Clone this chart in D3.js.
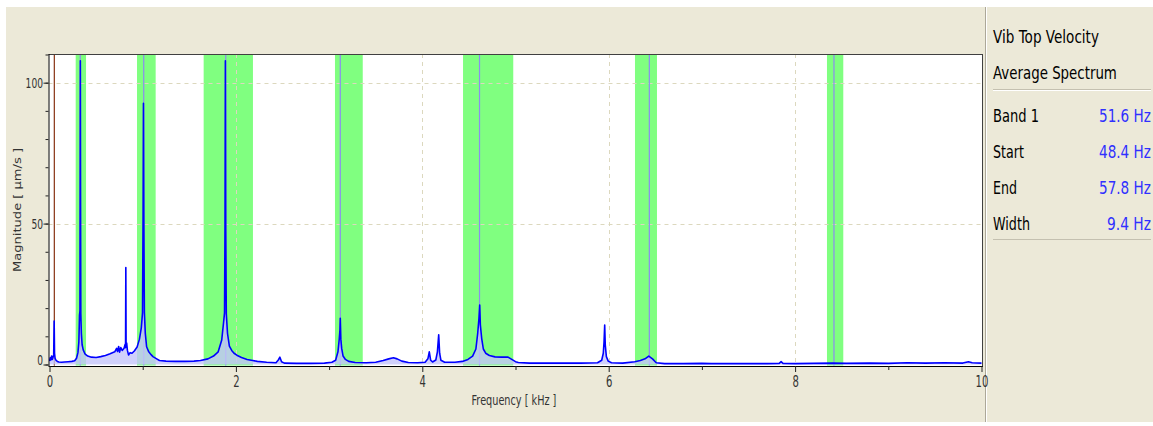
<!DOCTYPE html>
<html><head><meta charset="utf-8">
<script src="https://cdn.jsdelivr.net/npm/d3@7"></script>
<style>
html,body{margin:0;padding:0;background:#fff;}
svg{display:block;}
text{font-family:"DejaVu Sans","Liberation Sans",Arial,sans-serif;}
</style></head>
<body>
<svg id="chart" width="1153" height="426"></svg>
<script>
// ---------- DATA ----------
const freqKHz = [0.000,0.008,0.015,0.022,0.030,0.038,0.045,0.050,0.054,0.060,0.070,0.085,0.100,0.130,0.160,0.200,0.240,0.270,0.290,0.305,0.315,0.322,0.327,0.329,0.331,0.333,0.336,0.342,0.350,0.362,0.380,0.410,0.450,0.500,0.550,0.600,0.650,0.700,0.720,0.730,0.742,0.752,0.765,0.780,0.800,0.812,0.816,0.819,0.822,0.828,0.836,0.848,0.865,0.885,0.910,0.940,0.965,0.985,0.998,1.004,1.008,1.012,1.018,1.028,1.042,1.065,1.090,1.110,1.150,1.180,1.250,1.350,1.450,1.550,1.620,1.700,1.760,1.810,1.848,1.868,1.878,1.883,1.887,1.891,1.897,1.910,1.930,1.955,1.980,2.010,2.060,2.120,2.180,2.230,2.330,2.430,2.455,2.472,2.490,2.520,2.650,2.800,2.950,3.030,3.070,3.095,3.108,3.116,3.120,3.126,3.135,3.150,3.175,3.210,3.280,3.400,3.500,3.580,3.640,3.690,3.730,3.780,3.850,3.950,4.030,4.060,4.075,4.090,4.110,4.145,4.162,4.176,4.186,4.200,4.240,4.350,4.430,4.490,4.540,4.575,4.594,4.608,4.616,4.623,4.637,4.655,4.680,4.720,4.780,4.850,4.920,4.960,5.000,5.030,5.150,5.350,5.500,5.700,5.880,5.925,5.942,5.950,5.957,5.963,5.975,5.995,6.030,6.150,6.280,6.340,6.390,6.430,6.470,6.510,6.600,6.800,7.000,7.100,7.400,7.700,7.830,7.850,7.870,8.000,8.200,8.400,8.550,8.800,9.000,9.200,9.400,9.600,9.800,9.860,9.900,10.000];
const magnitude = [1.2,2.4,1.6,3.0,1.8,2.6,3.5,15.4,4.0,2.2,1.5,1.1,0.9,0.8,0.9,1.0,1.1,1.3,2.2,4.2,8.0,17.5,19.0,62.0,107.8,61.0,18.0,11.0,7.0,5.2,3.8,3.0,2.6,2.5,2.8,3.2,3.8,4.5,5.7,4.6,6.4,4.4,6.0,5.0,5.8,7.2,6.0,34.4,6.5,7.6,5.0,3.4,4.2,4.0,4.8,6.2,9.0,13.0,18.3,52.4,92.7,52.0,18.5,11.0,6.3,4.5,3.5,2.8,2.0,1.4,1.2,1.1,1.1,1.2,1.4,2.0,3.0,4.5,8.7,15.0,18.3,48.4,107.8,47.0,18.0,11.0,6.5,5.0,4.0,3.3,2.5,1.8,1.4,1.1,0.8,0.6,1.6,2.6,1.0,0.5,0.4,0.4,0.5,0.8,1.5,4.5,8.7,12.0,16.4,9.0,5.7,3.0,1.8,1.1,0.7,0.6,0.8,1.4,2.0,2.4,2.0,1.2,0.7,0.6,0.8,2.0,4.5,1.5,0.9,1.6,4.5,10.5,4.0,1.5,0.8,0.8,1.1,1.8,3.0,5.5,10.9,16.4,21.1,14.0,9.3,5.5,4.0,3.2,2.7,2.6,2.6,1.8,1.0,0.7,0.5,0.5,0.5,0.5,0.6,1.5,4.0,8.0,14.0,7.0,2.8,1.2,0.6,0.5,1.0,1.4,2.0,3.0,2.0,0.6,0.3,0.3,0.4,0.3,0.3,0.3,0.4,1.0,0.4,0.3,0.4,0.5,0.4,0.5,0.4,0.6,0.5,0.6,0.5,1.0,0.6,0.5];

const bandStart  = [0.281, 0.939, 1.654, 3.063, 4.437, 6.282, 8.342];
const bandEnd    = [0.392, 1.139, 2.183, 3.361, 4.976, 6.518, 8.517];
const bandCenter = [0.330, 1.011, 1.891, 3.120, 4.614, 6.436, 8.417];

const cursorHz = 51.6, cursorStartHz = 48.4, cursorEndHz = 57.8;

const xTicks = [0, 2, 4, 6, 8, 10];
const xMinorTicks = [1, 3, 5, 7, 9];
const yTicks = [0, 50, 100];
const yMinorTicks = [0,10,20,30,40,50,60,70,80,90,100,110];

const panelTitle1 = "Vib Top Velocity";
const panelTitle2 = "Average Spectrum";
const panelLabels = ["Band 1", "Start", "End", "Width"];
const panelValues = ["51.6 Hz", "48.4 Hz", "57.8 Hz", "9.4 Hz"];

const xTitle = "Frequency [ kHz ]";
const yTitle = "Magnitude [ µm/s ]";

// ---------- LAYOUT ----------
const svg = d3.select("#chart");
const L = 48.5, R = 982.5, T = 54, B = 366;
const x = d3.scaleLinear().domain([0, 10]).range([49.5, 981.5]);
const y = d3.scaleLinear().domain([0, 110]).range([364.5, 54.5]);

// place a text with horizontal squeeze so it spans width w
function squeezeText(sel, t, xx, yy, w, anchor, size, color){
  const el = sel.append("text").attr("x",0).attr("y",0).attr("font-size",size)
    .attr("text-anchor","start").attr("fill",color).text(t);
  const nat = el.node().getComputedTextLength();
  const s = w / nat;
  let x0 = xx;
  if (anchor === "end") x0 = xx - w;
  else if (anchor === "middle") x0 = xx - w/2;
  el.attr("transform",`translate(${x0},${yy}) scale(${s},1)`);
  return el;
}

const beige = "#ECE9D8";
svg.append("rect").attr("x",0).attr("y",0).attr("width",1153).attr("height",426).attr("fill","#fff");
svg.append("rect").attr("x",6).attr("y",7).attr("width",1147).attr("height",415).attr("fill",beige);

// right panel separator
svg.append("line").attr("x1",985.5).attr("x2",985.5).attr("y1",7).attr("y2",422).attr("stroke","#ACA899");
svg.append("line").attr("x1",986.5).attr("x2",986.5).attr("y1",7).attr("y2",422).attr("stroke","#fff");

// plot background
svg.append("rect").attr("x",L).attr("y",T).attr("width",R-L).attr("height",B-T).attr("fill","#fff");

svg.append("defs").append("clipPath").attr("id","clip")
  .append("rect").attr("x",L+0.5).attr("y",T+0.5).attr("width",R-L-1).attr("height",B-T-1);
const plot = svg.append("g").attr("clip-path","url(#clip)");

// green bands
plot.selectAll("rect.band").data(bandStart.map((s,i)=>({s, e: bandEnd[i]})))
  .enter().append("rect").attr("class","band")
  .attr("x", d=>x(d.s)).attr("width", d=>x(d.e)-x(d.s))
  .attr("y", T).attr("height", B-T).attr("fill","#80FF80");

// gridlines
const grid = "#DCD8BE";
plot.selectAll("line.hg").data([50,100]).enter().append("line")
  .attr("x1",L).attr("x2",R).attr("y1",d=>Math.round(y(d))+0.5).attr("y2",d=>Math.round(y(d))+0.5)
  .attr("stroke",grid).attr("stroke-width",1).attr("stroke-dasharray","4,4");
plot.selectAll("line.vg").data([2,4,6,8]).enter().append("line")
  .attr("y1",T).attr("y2",B).attr("x1",d=>Math.round(x(d))+0.5).attr("x2",d=>Math.round(x(d))+0.5)
  .attr("stroke",grid).attr("stroke-width",1).attr("stroke-dasharray","4,4");

// band center lines
plot.selectAll("line.bc").data(bandCenter).enter().append("line")
  .attr("x1",d=>x(d)).attr("x2",d=>x(d)).attr("y1",T).attr("y2",B)
  .attr("stroke","#8C8CF0").attr("stroke-width",1.2);

// cursor band
plot.append("rect").attr("x",x(cursorStartHz/1000)).attr("width",x(cursorEndHz/1000)-x(cursorStartHz/1000))
  .attr("y",T).attr("height",B-T).attr("fill","#D08838");
plot.append("line").attr("x1",x(cursorHz/1000)).attr("x2",x(cursorHz/1000)).attr("y1",T).attr("y2",B)
  .attr("stroke","#8A3A20").attr("stroke-width",1.2);

// spectrum
const pts = freqKHz.map((f,i)=>({f, m: magnitude[i]}));
plot.append("path").datum(pts)
  .attr("d", d3.area().x(d=>x(d.f)).y0(y(0)).y1(d=>y(d.m)))
  .attr("fill","#C4C4FA").attr("opacity",0.8);
plot.append("path").datum(pts)
  .attr("d", d3.line().x(d=>x(d.f)).y(d=>y(d.m)))
  .attr("fill","none").attr("stroke","#0000FF").attr("stroke-width",1.6).attr("stroke-linejoin","round");

// frame
svg.append("line").attr("x1",L).attr("x2",R+0.5).attr("y1",T+0.5).attr("y2",T+0.5).attr("stroke","#404040");
svg.append("line").attr("x1",R).attr("x2",R).attr("y1",T).attr("y2",B).attr("stroke","#404040");

// axes
const xAxis = svg.append("g").attr("transform",`translate(0,${B})`)
  .call(d3.axisBottom(x).tickValues(xTicks).tickSize(6).tickSizeOuter(0).tickFormat(d3.format("d")));
const xMinor = svg.append("g").attr("transform",`translate(0,${B})`)
  .call(d3.axisBottom(x).tickValues(xMinorTicks).tickSize(4).tickSizeOuter(0).tickFormat(""));
xMinor.select(".domain").remove();
xAxis.select(".domain").attr("d",`M${L},0.5H${R+0.5}`).attr("stroke","#000");
xAxis.selectAll(".tick line").attr("stroke","#222");
xMinor.selectAll(".tick line").attr("stroke","#222");
xAxis.selectAll(".tick").each(function(d){
  const g = d3.select(this);
  g.select("text").remove();
  squeezeText(g, String(d), 0, 20.5, String(d).length*6.4, "middle", 16, "#333");
});

const yAxis = svg.append("g").attr("transform",`translate(${L},0)`)
  .call(d3.axisLeft(y).tickValues(yTicks).tickSize(5).tickSizeOuter(0));
const yMinor = svg.append("g").attr("transform",`translate(${L},0)`)
  .call(d3.axisLeft(y).tickValues(yMinorTicks).tickSize(3).tickSizeOuter(0).tickFormat(""));
yMinor.select(".domain").remove();
yAxis.select(".domain").attr("d",`M0.5,${T}V${B}`).attr("stroke","#000");
yAxis.selectAll(".tick line").attr("stroke","#222");
yMinor.selectAll(".tick line").attr("stroke","#222");
yAxis.selectAll(".tick").each(function(d){
  const g = d3.select(this);
  g.select("text").remove();
  squeezeText(g, String(d), -5.5, d===0 ? -0.5 : 5, String(d).length*5.8, "end", 14, "#333");
});

// axis titles
squeezeText(svg, xTitle, 514, 405, 85, "middle", 14, "#333");
svg.append("text").attr("transform","translate(21,210) rotate(-90) scale(1,0.72)")
  .attr("text-anchor","middle").attr("font-size",14).attr("fill","#333")
  .attr("lengthAdjust","spacingAndGlyphs").attr("textLength",124).text(yTitle);

// right panel
const px = 993, pr = 1151;
squeezeText(svg, panelTitle1, px, 42.5, 106, "start", 18, "#000");
squeezeText(svg, panelTitle2, px, 78.5, 124, "start", 18, "#000");
svg.append("line").attr("x1",px).attr("x2",pr).attr("y1",89.5).attr("y2",89.5).attr("stroke","#C4C0B0");
svg.append("line").attr("x1",px).attr("x2",pr).attr("y1",90.5).attr("y2",90.5).attr("stroke","#fff");
const rowY = [122, 158, 194, 230];
const labelW = [46, 31, 24, 37];
const valueW = [52, 52, 52, 44];
panelLabels.forEach((l,i)=>squeezeText(svg, l, px, rowY[i], labelW[i], "start", 18, "#000"));
panelValues.forEach((v,i)=>squeezeText(svg, v, pr, rowY[i], valueW[i], "end", 18, "#3030FF"));
svg.append("line").attr("x1",px).attr("x2",pr).attr("y1",239.5).attr("y2",239.5).attr("stroke","#C4C0B0");
</script>
</body></html>
